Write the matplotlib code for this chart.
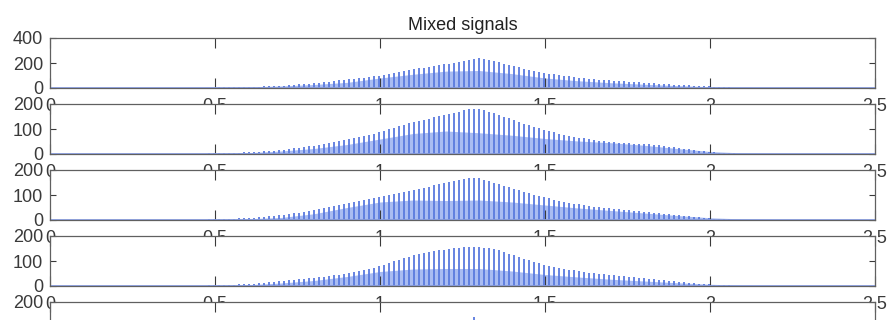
import numpy as np
import matplotlib
matplotlib.use("Agg")
import matplotlib.pyplot as plt

plt.rcParams['font.family'] = ['Liberation Sans', 'DejaVu Sans']

title = "Mixed signals"
x_ticks = [0, 0.5, 1, 1.5, 2, 2.5]
x_tick_labels = ["0", "0.5", "1", "1.5", "2", "2.5"]
y_ticks_list = [[0, 200, 400], [0, 100, 200], [0, 100, 200], [0, 100, 200], [0, 100, 200]]
y_max = [400, 200, 200, 200, 200]

# smooth (light) part of each signal, sampled every 0.1
env_x = [0.0, 0.1, 0.2, 0.3, 0.4, 0.5, 0.6, 0.7, 0.8, 0.9, 1.0, 1.1, 1.2,
         1.3, 1.4, 1.5, 1.6, 1.7, 1.8, 1.9, 2.0, 2.1, 2.2, 2.3, 2.4, 2.5]
env1 = [2, 2, 2, 3, 4, 6, 9, 16, 28, 45, 80, 110, 135, 140, 115, 80, 58, 42, 30, 19, 10, 6, 4, 3, 2, 2]
env2 = [1, 1, 1, 2, 2, 3, 5, 12, 22, 38, 60, 82, 92, 85, 75, 62, 52, 45, 35, 22, 10, 4, 2, 1, 1, 1]
env3 = [1, 1, 1, 2, 2, 3, 5, 10, 25, 50, 72, 80, 78, 80, 72, 60, 48, 38, 28, 18, 9, 4, 2, 1, 1, 1]
env4 = [1, 1, 1, 2, 2, 3, 5, 12, 22, 38, 58, 68, 70, 70, 60, 46, 36, 27, 20, 13, 7, 3, 2, 1, 1, 1]
env5 = [1, 1, 1, 2, 2, 3, 5, 11, 20, 35, 55, 65, 68, 68, 58, 44, 34, 26, 19, 12, 6, 3, 2, 1, 1, 1]

# spike heights (comb of narrow peaks), first spike at spike_start, spaced by spike_step
spikes1 = [3, 3, 4, 4, 5, 5, 6, 6, 7, 8,
           9, 10, 11, 13, 14, 16, 18, 20, 23, 26,
           29, 32, 36, 40, 44, 48, 52, 56, 61, 65,
           70, 74, 79, 83, 88, 93, 98, 105, 112, 120,
           128, 135, 142, 149, 157, 164, 171, 178, 184, 190,
           196, 202, 210, 218, 226, 232, 238, 236, 228, 218,
           206, 196, 186, 176, 166, 156, 147, 138, 130, 123,
           116, 110, 104, 98, 93, 88, 84, 80, 76, 72,
           68, 65, 62, 59, 56, 53, 50, 47, 45, 42,
           40, 37, 35, 32, 30, 28, 26, 24, 21, 19,
           17, 15, 13, 11, 9, 7, 6, 4, 3]
spikes2 = [2, 2, 3, 3, 4, 4, 5, 5, 6, 7,
           8, 9, 10, 11, 12, 14, 16, 18, 20, 23,
           26, 28, 31, 34, 37, 40, 43, 47, 51, 55,
           59, 63, 67, 72, 77, 82, 88, 94, 100, 106,
           111, 117, 123, 128, 133, 138, 142, 147, 151, 156,
           160, 165, 170, 175, 179, 182, 180, 175, 169, 163,
           157, 150, 143, 136, 129, 122, 115, 109, 103, 97,
           92, 87, 82, 78, 74, 70, 66, 63, 60, 57,
           54, 52, 50, 48, 46, 44, 43, 42, 41, 40,
           39, 37, 35, 33, 30, 27, 24, 21, 19, 16,
           14, 12, 10, 8, 6, 5, 4, 3, 2]
spikes3 = [2, 2, 3, 3, 4, 4, 5, 6, 7, 8,
           9, 10, 12, 13, 15, 17, 19, 21, 24, 27,
           30, 33, 36, 40, 44, 48, 52, 56, 60, 64,
           68, 72, 76, 80, 85, 89, 93, 97, 101, 105,
           109, 113, 117, 121, 125, 129, 134, 139, 144, 149,
           153, 157, 161, 165, 168, 170, 167, 162, 156, 150,
           144, 138, 132, 126, 120, 114, 108, 102, 97, 92,
           87, 82, 78, 74, 70, 66, 63, 60, 57, 54,
           51, 49, 47, 45, 43, 41, 39, 37, 35, 33,
           31, 29, 27, 25, 23, 21, 19, 17, 15, 13,
           11, 9, 8, 6, 5, 4, 3, 2, 2]
spikes4 = [2, 2, 3, 3, 4, 4, 5, 6, 7, 8,
           9, 10, 11, 13, 15, 17, 19, 21, 23, 25,
           27, 29, 31, 33, 35, 37, 40, 43, 46, 50,
           54, 58, 62, 66, 70, 74, 79, 85, 92, 99,
           106, 112, 118, 123, 128, 132, 136, 140, 143, 146,
           149, 152, 154, 156, 157, 157, 156, 154, 151, 147,
           143, 137, 130, 123, 116, 109, 103, 97, 91, 86,
           81, 77, 73, 69, 66, 63, 60, 57, 54, 51,
           49, 47, 45, 43, 41, 39, 37, 35, 33, 31,
           29, 27, 25, 23, 21, 19, 17, 15, 13, 11,
           10, 8, 7, 6, 5, 4, 3, 2, 2]
spikes5 = [2, 2, 3, 3, 4, 4, 5, 6, 7, 8,
           9, 10, 11, 12, 14, 16, 18, 20, 22, 24,
           26, 28, 30, 32, 34, 36, 39, 42, 45, 49,
           53, 57, 61, 65, 69, 73, 78, 83, 89, 95,
           100, 104, 107, 110, 112, 114, 116, 118, 119, 120,
           121, 122, 123, 124, 125, 140, 125, 123, 120, 117,
           113, 109, 105, 101, 97, 93, 89, 85, 80, 76,
           72, 68, 65, 62, 59, 56, 54, 52, 50, 48,
           46, 44, 42, 40, 38, 36, 34, 32, 30, 28,
           26, 24, 22, 20, 18, 16, 15, 13, 12, 10,
           9, 8, 7, 6, 5, 4, 3, 2, 2]

envs = [env1, env2, env3, env4, env5]
spikes = [spikes1, spikes2, spikes3, spikes4, spikes5]
spike_start = 0.45
spike_step = 1 / 66.0

W, H = 888, 320
fig = plt.figure(figsize=(W / 100, H / 100), dpi=100)
left_px, right_px = 50, 875
axes_top_px = [38, 104, 170, 236, 302]
axes_h_px = 50

fill_col = '#a9bcf2'
spike_col = '#5a7ade'
edge_col = '#606060'

for k in range(5):
    top = axes_top_px[k]
    rect = [left_px / W, (H - top - axes_h_px) / H, (right_px - left_px) / W, axes_h_px / H]
    ax = fig.add_axes(rect)
    ax.fill_between(env_x, envs[k], 0, color=fill_col, lw=0)
    xs = spike_start + spike_step * np.arange(len(spikes[k]))
    ax.vlines(xs, 0, spikes[k], color=spike_col, lw=1.3)
    ax.axhline(0, color='#8aa0e8', lw=2.0)
    ax.set_xlim(0, 2.5)
    ax.set_ylim(0, y_max[k])
    ax.set_xticks(x_ticks, x_tick_labels)
    ax.set_yticks(y_ticks_list[k])
    ax.tick_params(axis='both', direction='in', top=True, right=True,
                   labelsize=13, colors='#3a3a3a', width=0.8)
    ax.tick_params(axis='x', length=7, pad=7.5)
    ax.tick_params(axis='y', length=4, pad=5)
    for s in ax.spines.values():
        s.set_color(edge_col)
        s.set_linewidth(0.9)
    if k == 0:
        ax.set_title(title, fontsize=13, color='#222222', pad=6)

fig.savefig("out.png", dpi=100)
